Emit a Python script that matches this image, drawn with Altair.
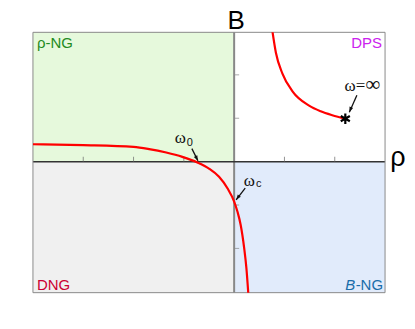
import altair as alt
import pandas as pd

# ---- data ----
X_DOM = [-4, 3]
Y_DOM = [-3.02, 2.98]

curve1_rho = [-4.0, -3.0, -2.0, -1.69, -1.35, -1.03, -0.73, -0.50, -0.30, -0.13, 0.0, 0.065, 0.13, 0.20, 0.244, 0.285]
curve1_B = [0.40, 0.38, 0.34, 0.29, 0.21, 0.11, -0.02, -0.16, -0.35, -0.62, -0.92, -1.15, -1.46, -2.00, -2.46, -3.10]

curve2_rho = [0.755, 0.83, 0.96, 1.16, 1.49, 1.72, 1.95, 2.21]
curve2_B = [3.05, 2.51, 2.03, 1.62, 1.29, 1.16, 1.07, 0.99]

star_rho = [2.21]
star_B = [0.99]

x_ticks = [-3, -2, -1, 1, 2]
y_ticks = [-2, -1, 1, 2]

quad_x0 = [-4, 0, -4, 0]
quad_x1 = [0, 3, 0, 3]
quad_y0 = [0, 0, -3.02, -3.02]
quad_y1 = [2.98, 2.98, 0, 0]
quad_fill = ["#e6f9dc", "#ffffff", "#f0f0f0", "#e1ebfb"]

# annotation arrows (tail -> head)
arr_x = [-0.84, 0.22, 2.44]
arr_y = [0.30, -0.61, 1.53]
arr_x2 = [-0.72, 0.04, 2.29]
arr_y2 = [0.02, -0.88, 1.14]
arr_angle = [153, 217, 202]

ann_main = ["ω", "ω", "ω="]
ann_main_x = [-1.07, 0.30, 2.40]
ann_main_y = [0.54, -0.45, 1.74]
ann_sub = ["0", "c"]
ann_sub_x = [-0.88, 0.49]
ann_sub_y = [0.43, -0.52]
inf_x = [2.76]
inf_y = [1.76]

xs = alt.Scale(domain=X_DOM, nice=False, zero=False)
ys = alt.Scale(domain=Y_DOM, nice=False, zero=False)


def X(f=None, datum=None):
    if datum is not None:
        return alt.X(datum=datum, type="quantitative", scale=xs, axis=None)
    return alt.X(f, type="quantitative", scale=xs, axis=None)


def Y(f=None, datum=None):
    if datum is not None:
        return alt.Y(datum=datum, type="quantitative", scale=ys, axis=None)
    return alt.Y(f, type="quantitative", scale=ys, axis=None)


quads = pd.DataFrame({"x0": quad_x0, "x1": quad_x1, "y0": quad_y0, "y1": quad_y1, "fill": quad_fill})
quad_layer = alt.Chart(quads).mark_rect().encode(
    x=X("x0"), x2="x1", y=Y("y0"), y2="y1", fill=alt.Fill("fill:N", scale=None)
)

frame = alt.Chart(pd.DataFrame({"a": [0]})).mark_rect(filled=False, stroke="#8a8a8a", strokeWidth=1).encode(
    x=X(datum=X_DOM[0]), x2=alt.X2(datum=X_DOM[1]), y=Y(datum=Y_DOM[0]), y2=alt.Y2(datum=Y_DOM[1])
)

vaxis = alt.Chart(pd.DataFrame({"a": [0]})).mark_rule(color="#888888", strokeWidth=2).encode(x=X(datum=0))
haxis = alt.Chart(pd.DataFrame({"a": [0]})).mark_rule(color="#333333", strokeWidth=1.5).encode(y=Y(datum=0))

xt = alt.Chart(pd.DataFrame({"t": x_ticks, "z": [0] * len(x_ticks)})).mark_tick(
    orient="vertical", color="#666666", thickness=1, size=5, yOffset=-2.5
).encode(x=X("t"), y=Y("z"))
yt = alt.Chart(pd.DataFrame({"t": y_ticks, "z": [0] * len(y_ticks)})).mark_tick(
    orient="horizontal", color="#888888", thickness=1, size=5, xOffset=2.5
).encode(y=Y("t"), x=X("z"))

curves = pd.DataFrame({
    "rho": curve1_rho + curve2_rho,
    "B": curve1_B + curve2_B,
    "c": ["a"] * len(curve1_rho) + ["b"] * len(curve2_rho),
    "i": list(range(len(curve1_rho))) + list(range(len(curve2_rho))),
})
lines = alt.Chart(curves).mark_line(color="#ff0000", strokeWidth=2.2, interpolate="monotone", clip=True).encode(
    x=X("rho"), y=Y("B"), detail="c:N", order="i:Q"
)

star = alt.Chart(pd.DataFrame({"rho": star_rho, "B": star_B})).mark_point(
    shape="M0,-1L0,1M-0.87,-0.5L0.87,0.5M-0.87,0.5L0.87,-0.5",
    filled=False, stroke="#000000", strokeWidth=2.2, size=110, opacity=1
).encode(x=X("rho"), y=Y("B"))

arrows_df = pd.DataFrame({"x": arr_x, "y": arr_y, "x2": arr_x2, "y2": arr_y2, "ang": arr_angle})
arrow_lines = alt.Chart(arrows_df).mark_rule(color="#111111", strokeWidth=1.3).encode(
    x=X("x"), y=Y("y"), x2="x2", y2="y2"
)
arrow_heads = alt.Chart(arrows_df).mark_point(
    shape="M0,0L-0.55,1.5L0.55,1.5Z", filled=True, color="#111111", size=49, opacity=1
).encode(x=X("x2"), y=Y("y2"), angle=alt.Angle("ang:Q", scale=None))

ann_df = pd.DataFrame({"t": ann_main, "x": ann_main_x, "y": ann_main_y})
ann_text = alt.Chart(ann_df).mark_text(
    font="Liberation Serif", fontSize=17, color="#111111", baseline="middle", align="center"
).encode(x=X("x"), y=Y("y"), text="t:N")
sub_df = pd.DataFrame({"t": ann_sub, "x": ann_sub_x, "y": ann_sub_y})
sub_text = alt.Chart(sub_df).mark_text(
    font="Liberation Sans", fontSize=11, color="#111111", baseline="middle", align="center"
).encode(x=X("x"), y=Y("y"), text="t:N")
inf_text = alt.Chart(pd.DataFrame({"x": inf_x, "y": inf_y, "t": ["∞"]})).mark_text(
    font="DejaVu Sans", fontSize=21, fontWeight=300, color="#111111", baseline="middle", align="center"
).encode(x=X("x"), y=Y("y"), text="t:N")

one = pd.DataFrame({"a": [0]})
lab_rng = alt.Chart(one).mark_text(text="ρ-NG", font="Liberation Sans", fontSize=15, color="#228b22",
                                   align="left", baseline="alphabetic", dx=4, dy=15.5).encode(
    x=X(datum=X_DOM[0]), y=Y(datum=Y_DOM[1]))
lab_dps = alt.Chart(one).mark_text(text="DPS", font="Liberation Sans", fontSize=15, color="#cc22ee",
                                   align="right", baseline="alphabetic", dx=-3, dy=15.5).encode(
    x=X(datum=X_DOM[1]), y=Y(datum=Y_DOM[1]))
lab_dng = alt.Chart(one).mark_text(text="DNG", font="Liberation Sans", fontSize=15, color="#cc0033",
                                   align="left", baseline="alphabetic", dx=4, dy=-2.5).encode(
    x=X(datum=X_DOM[0]), y=Y(datum=Y_DOM[0]))
lab_bng1 = alt.Chart(one).mark_text(text="-NG", font="Liberation Sans", fontSize=15, color="#1a6eaa",
                                    align="right", baseline="alphabetic", dx=-2, dy=-2.5).encode(
    x=X(datum=X_DOM[1]), y=Y(datum=Y_DOM[0]))
lab_bng2 = alt.Chart(one).mark_text(text="B", font="Liberation Sans", fontSize=15, fontStyle="italic",
                                    color="#1a6eaa", align="right", baseline="alphabetic", dx=-30, dy=-2.5).encode(
    x=X(datum=X_DOM[1]), y=Y(datum=Y_DOM[0]))

title_B = alt.Chart(one).mark_text(text="B", font="Liberation Sans", fontSize=26, color="#000000",
                                   align="center", baseline="alphabetic", dx=2, dy=-3.5).encode(
    x=X(datum=0), y=Y(datum=Y_DOM[1]))
title_rho = alt.Chart(one).mark_text(text="ρ", font="Liberation Sans", fontSize=27, color="#000000",
                                     align="center", baseline="alphabetic", dx=13, dy=4).encode(
    x=X(datum=X_DOM[1]), y=Y(datum=0))

chart = alt.layer(
    quad_layer, vaxis, haxis, xt, yt, frame, lines, star, arrow_lines, arrow_heads,
    ann_text, sub_text, inf_text, lab_rng, lab_dps, lab_dng, lab_bng1, lab_bng2, title_B, title_rho
).properties(
    width=353, height=261,
    autosize=alt.AutoSizeParams(type="none"),
    padding={"left": 25, "top": 24, "right": 22, "bottom": 20},
).configure_view(stroke=None)

chart.save("out.html", embed_options={"renderer": "svg", "actions": False})
